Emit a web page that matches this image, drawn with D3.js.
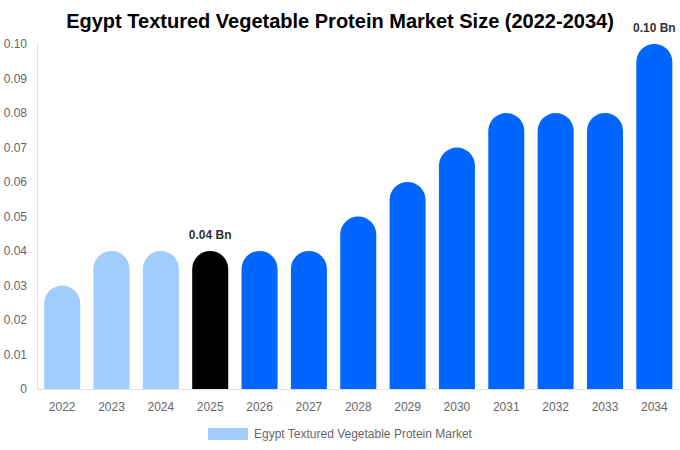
<!DOCTYPE html>
<html>
<head>
<meta charset="utf-8">
<script src="https://cdn.jsdelivr.net/npm/d3@7"></script>
<style>
  body { margin: 0; background: #fff; font-family: "Liberation Sans", Arial, sans-serif; }
</style>
</head>
<body>
<script>
// Chart data
const years = ["2022", "2023", "2024", "2025", "2026", "2027", "2028", "2029", "2030", "2031", "2032", "2033", "2034"];
const values = [0.03, 0.04, 0.04, 0.04, 0.04, 0.04, 0.05, 0.06, 0.07, 0.08, 0.08, 0.08, 0.10];
const yTicks = [0, 0.01, 0.02, 0.03, 0.04, 0.05, 0.06, 0.07, 0.08, 0.09, 0.10];
const labelled = {"2025": "0.04 Bn", "2034": "0.10 Bn"};
const seriesName = "Egypt Textured Vegetable Protein Market";
const chartTitle = "Egypt Textured Vegetable Protein Market Size (2022-2034)";

const width = 680, height = 450;
const margin = {top: 44, right: 1, bottom: 61, left: 37.5};

const colorFor = (y, i) => i < 3 ? "#a0cdfc" : (y === "2025" ? "#000000" : "#0066ff");

const svg = d3.select("body").append("svg")
    .attr("width", width)
    .attr("height", height);

const x = d3.scaleBand()
    .domain(years)
    .range([margin.left, width - margin.right])
    .paddingInner(0.27)
    .paddingOuter(0.135);

const y = d3.scaleLinear()
    .domain([0, 0.10])
    .range([height - margin.bottom, margin.top]);

// title
svg.append("text")
    .attr("x", width / 2)
    .attr("y", 28)
    .attr("text-anchor", "middle")
    .style("font-size", "20px")
    .style("font-weight", "bold")
    .style("fill", "#000")
    .text(chartTitle);

// y axis line + tick labels
svg.append("line")
    .attr("x1", margin.left).attr("x2", margin.left)
    .attr("y1", margin.top).attr("y2", y(0))
    .style("stroke", "#e0e0e0");

svg.append("line")
    .attr("x1", margin.left).attr("x2", width - margin.right)
    .attr("y1", y(0) + 0.5).attr("y2", y(0) + 0.5)
    .style("stroke", "#e0e0e0");

svg.selectAll("text.ytick")
    .data(yTicks)
    .enter().append("text")
    .attr("class", "ytick")
    .attr("x", 27)
    .attr("y", d => y(d))
    .attr("dy", "0.35em")
    .attr("text-anchor", "end")
    .style("font-size", "12px")
    .style("fill", "#666")
    .text(d => d === 0 ? "0" : d3.format(".2f")(d));

// x tick labels
svg.selectAll("text.xtick")
    .data(years)
    .enter().append("text")
    .attr("class", "xtick")
    .attr("x", d => x(d) + x.bandwidth() / 2)
    .attr("y", y(0) + 22)
    .attr("text-anchor", "middle")
    .style("font-size", "12px")
    .style("fill", "#666")
    .text(d => d);

// bars with fully rounded tops
const bw = x.bandwidth();
const r = bw / 2;
const barPath = (d, i) => {
    const x0 = x(years[i]), top = y(d), base = y(0);
    return "M" + x0 + "," + base
        + "V" + (top + r)
        + "A" + r + "," + r + " 0 0 1 " + (x0 + bw) + "," + (top + r)
        + "V" + base + "Z";
};

svg.selectAll("path.bar")
    .data(values)
    .enter().append("path")
    .attr("class", "bar")
    .attr("d", barPath)
    .style("fill", (d, i) => colorFor(years[i], i));

// value labels
svg.selectAll("text.vlabel")
    .data(years.filter(d => labelled[d]))
    .enter().append("text")
    .attr("class", "vlabel")
    .attr("x", d => x(d) + bw / 2)
    .attr("y", d => y(values[years.indexOf(d)]) - 12)
    .attr("text-anchor", "middle")
    .style("font-size", "12px")
    .style("font-weight", "bold")
    .style("fill", "#333")
    .text(d => labelled[d]);

// legend
const legend = svg.append("g").attr("transform", "translate(208,428)");
legend.append("rect")
    .attr("width", 40).attr("height", 12)
    .style("fill", "#a0cdfc");
legend.append("text")
    .attr("x", 46).attr("y", 6)
    .attr("dy", "0.35em")
    .style("font-size", "12px")
    .style("fill", "#666")
    .text(seriesName);
</script>
</body>
</html>
